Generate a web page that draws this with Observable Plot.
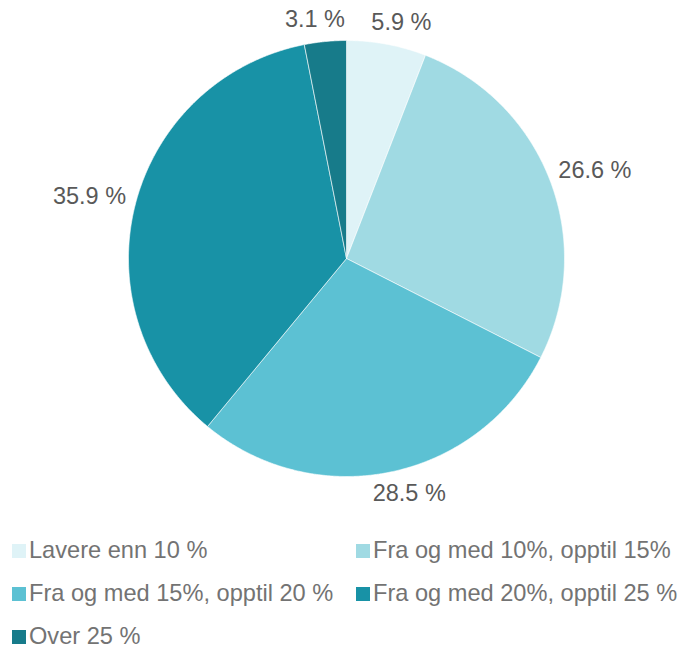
<!DOCTYPE html>
<html>
<head>
<meta charset="utf-8">
<script src="https://cdn.jsdelivr.net/npm/d3@7"></script>
<script src="https://cdn.jsdelivr.net/npm/@observablehq/plot@0.6"></script>
<style>
  body { margin: 0; background: #fff; font-family: "Liberation Sans", Arial, sans-serif; }
  #legend { display: grid; grid-template-columns: 344px 330px; margin-left: 12px; margin-top: 4px; }
  .item { display: flex; align-items: center; height: 43px; font-size: 23.6px; color: #737373; white-space: nowrap; }
  .sw { width: 14px; height: 14px; margin-right: 3px; flex: none; }
</style>
</head>
<body>
<div id="chart"></div>
<div id="legend"></div>
<script>
const categories = [
  "Lavere enn 10 %",
  "Fra og med 10%, opptil 15%",
  "Fra og med 15%, opptil 20 %",
  "Fra og med 20%, opptil 25 %",
  "Over 25 %"
];
const values = [5.9, 26.6, 28.5, 35.9, 3.1];
const valueLabels = ["5.9 %", "26.6 %", "28.5 %", "35.9 %", "3.1 %"];
const colors = ["#DFF3F7", "#A0DAE3", "#5CC1D3", "#1892A6", "#177B8A"];

const W = 682, H = 525;
const cx = 346, cy = 258, R = 218;
const fontSize = 23.5;

const arcs = d3.pie().sort(null).value(d => d)(values);

const slicePts = [];
arcs.forEach((a, i) => {
  slicePts.push({key: categories[i], x: cx, y: cy});
  const n = Math.max(4, Math.ceil((a.endAngle - a.startAngle) / 0.005));
  for (let k = 0; k <= n; k++) {
    const t = a.startAngle + (a.endAngle - a.startAngle) * k / n;
    slicePts.push({key: categories[i], x: cx + R * Math.sin(t), y: cy - R * Math.cos(t)});
  }
  slicePts.push({key: categories[i], x: cx, y: cy});
});

const ctx = document.createElement("canvas").getContext("2d");
ctx.font = `${fontSize}px "Liberation Sans"`;
const ssqrt = v => Math.sign(v) * Math.sqrt(Math.abs(v));
const labelData = arcs.map((a, i) => {
  const m = (a.startAngle + a.endAngle) / 2;
  const d = 10;
  const s = Math.sin(m), c = Math.cos(m);
  const px = cx + (R + d) * s, py = cy - (R + d) * c;
  const w = ctx.measureText(valueLabels[i]).width, h = fontSize;
  return {text: valueLabels[i], x: px + ssqrt(s) * w / 2, y: py - ssqrt(c) * h / 2};
});

const plot = Plot.plot({
  width: W, height: H,
  margin: 0,
  x: {domain: [0, W], axis: null},
  y: {domain: [0, H], reverse: true, axis: null},
  color: {domain: categories, range: colors},
  style: {fontFamily: '"Liberation Sans", Arial, sans-serif', background: "white"},
  marks: [
    Plot.line(slicePts, {x: "x", y: "y", z: "key", fill: "key", stroke: "white", strokeWidth: 0.6, curve: "linear"}),
    Plot.text(labelData, {x: "x", y: "y", text: "text", fontSize: fontSize, fill: "#595959", textAnchor: "middle"})
  ]
});
document.getElementById("chart").appendChild(plot);

const legend = document.getElementById("legend");
categories.forEach((c, i) => {
  const item = document.createElement("div");
  item.className = "item";
  const sw = document.createElement("span");
  sw.className = "sw";
  sw.style.background = colors[i];
  const tx = document.createElement("span");
  tx.textContent = c;
  item.appendChild(sw); item.appendChild(tx);
  legend.appendChild(item);
});
</script>
</body>
</html>
